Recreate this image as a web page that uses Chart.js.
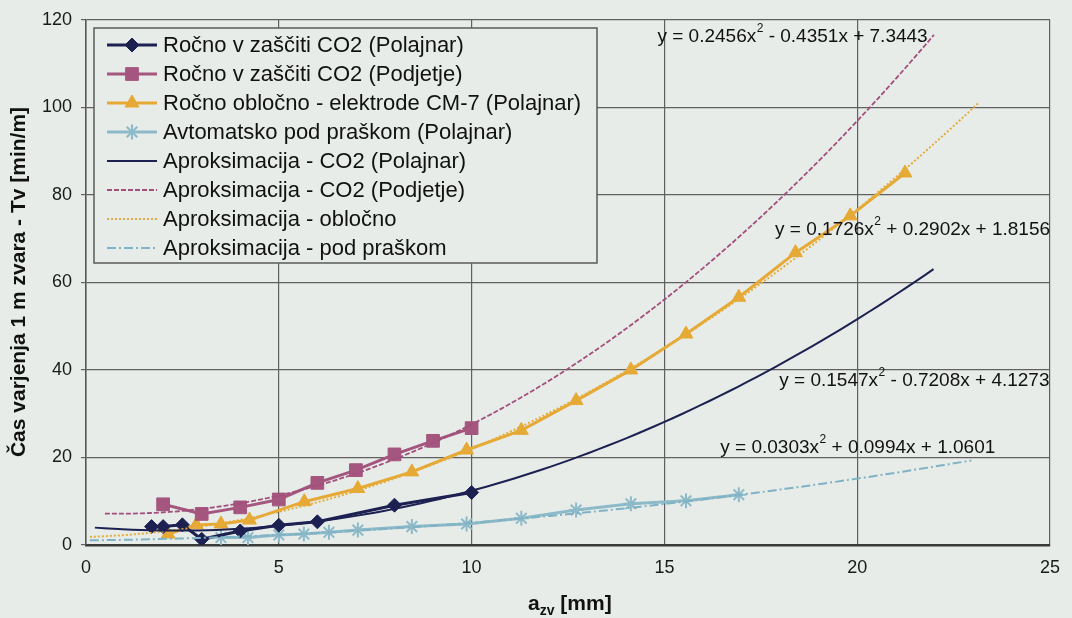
<!DOCTYPE html>
<html>
<head>
<meta charset="utf-8">
<script src="https://cdn.jsdelivr.net/npm/chart.js@4.4.1/dist/chart.umd.min.js"></script>
<style>
  html, body { margin: 0; padding: 0; background: #e8ece9; }
  #wrap { width: 1072px; height: 618px; }
</style>
</head>
<body>
<div id="wrap"><canvas id="chart" width="1072" height="618"></canvas></div>
<script>
// Measured welding times per metre of weld vs. weld size a_zv [mm]
const polajnarX = [1.7, 2, 2.5, 3, 4, 5, 6, 8, 10];
const polajnarY = [4.2, 4.2, 4.6, 1.3, 3.2, 4.5, 5.3, 9.1, 12.0];

const podjetjeX = [2, 3, 4, 5, 6, 7, 8, 9, 10];
const podjetjeY = [9.3, 7.1, 8.6, 10.4, 14.2, 17.1, 20.7, 23.8, 26.7];

const oblocnoX = [2.13, 2.86, 3.5, 4.24, 5.66, 7.05, 8.45, 9.87, 11.29, 12.71, 14.13, 15.56, 16.93, 18.4, 19.82, 21.24];
const oblocnoY = [2.5, 4.6, 4.8, 5.7, 9.9, 12.9, 16.7, 21.7, 26.2, 33.0, 40.0, 48.2, 56.6, 66.8, 75.2, 85.0];

const prasekX = [3.5, 4.2, 5.0, 5.65, 6.3, 7.05, 8.45, 9.87, 11.29, 12.71, 14.13, 15.56, 16.93];
const prasekY = [1.7, 1.7, 2.3, 2.5, 2.9, 3.4, 4.2, 4.8, 6.1, 8.0, 9.4, 10.1, 11.5];

// Quadratic trendlines y = a*x^2 + b*x + c, coefficients as printed on the chart
const fitPolajnar = [0.1547, -0.7208, 4.1273];
const fitPodjetje = [0.2456, -0.4351, 7.3443];
const fitOblocno = [0.1726, 0.2902, 1.8156];
const fitPrasek = [0.0303, 0.0994, 1.0601];

// x extent of each trendline (forecast forward/backward)
const fitRangePolajnar = [0.23, 21.98];
const fitRangePodjetje = [0.49, 21.99];
const fitRangeOblocno = [0.1, 23.17];
const fitRangePrasek = [0.1, 22.96];

const seriesNames = [
  'Ročno v zaščiti CO2 (Polajnar)',
  'Ročno v zaščiti CO2 (Podjetje)',
  'Ročno obločno - elektrode CM-7 (Polajnar)',
  'Avtomatsko pod praškom (Polajnar)',
];
const fitNames = [
  'Aproksimacija - CO2 (Polajnar)',
  'Aproksimacija - CO2 (Podjetje)',
  'Aproksimacija - obločno',
  'Aproksimacija - pod praškom',
];

const xTicks = [0, 5, 10, 15, 20, 25];
const yTicks = [0, 20, 40, 60, 80, 100, 120];

const PAGE_BG = '#e8ece9';
const FONT = '"Liberation Sans", Arial, sans-serif';

const NAVY = '#1c2152';
const MAUVE = '#a4567f';
const GOLD = '#e6a935';
const SKY = '#8dbac8';

function zip(xs, ys) {
  return xs.map((x, i) => ({ x, y: ys[i] }));
}

// sample the printed quadratic across its range
function fitCurve(coef, range) {
  const pts = [];
  const n = 90;
  for (let i = 0; i <= n; i++) {
    const x = range[0] + (range[1] - range[0]) * i / n;
    pts.push({ x, y: coef[0] * x * x + coef[1] * x + coef[2] });
  }
  return pts;
}

function dataSeries(label, points, color, style, radius) {
  return {
    label,
    data: points,
    showLine: true,
    borderColor: color,
    borderWidth: 3,
    pointStyle: style,
    pointRadius: radius,
    pointBackgroundColor: color,
    pointBorderColor: color,
    pointBorderWidth: style === 'star' ? 2 : 1,
    order: 2,
  };
}

function fitSeries(label, points, color, width, dash) {
  return {
    label,
    data: points,
    showLine: true,
    borderColor: color,
    borderWidth: width,
    borderDash: dash,
    pointRadius: 0,
    pointStyle: false,
    order: 1,
  };
}

const datasets = [
  dataSeries(seriesNames[0], zip(polajnarX, polajnarY), NAVY, 'rectRot', 7),
  dataSeries(seriesNames[1], zip(podjetjeX, podjetjeY), MAUVE, 'rect', 9),
  dataSeries(seriesNames[2], zip(oblocnoX, oblocnoY), GOLD, 'triangle', 8),
  dataSeries(seriesNames[3], zip(prasekX, prasekY), SKY, 'star', 7.5),
  fitSeries(fitNames[0], fitCurve(fitPolajnar, fitRangePolajnar), NAVY, 2, []),
  fitSeries(fitNames[1], fitCurve(fitPodjetje, fitRangePodjetje), '#a24f7c', 1.8, [5, 2]),
  fitSeries(fitNames[2], fitCurve(fitOblocno, fitRangeOblocno), '#e3ad3c', 2, [2, 2]),
  fitSeries(fitNames[3], fitCurve(fitPrasek, fitRangePrasek), '#7fb2c4', 2, [9, 3, 2, 3]),
];

// where each equation text starts (data units: x of left edge, y of text middle)
const eqCoefs = [fitPodjetje, fitOblocno, fitPolajnar, fitPrasek];
const eqAnchors = [[14.82, 116.2], [17.87, 72.0], [17.98, 37.6], [16.45, 22.3]];

function fmtEq(coef) {
  const a = coef[0].toFixed(4);
  const b = (coef[1] < 0 ? ' - ' : ' + ') + Math.abs(coef[1]).toFixed(4) + 'x';
  const c = (coef[2] < 0 ? ' - ' : ' + ') + Math.abs(coef[2]).toFixed(4);
  return ['y = ' + a + 'x', '2', b + c];
}

const overlay = {
  id: 'overlay',
  afterDraw(chart) {
    const { ctx } = chart;
    const xs = chart.scales.x;
    const ys = chart.scales.y;
    ctx.save();

    // legend box
    const L = { left: 94, top: 28, right: 597, bottom: 263 };
    ctx.fillStyle = PAGE_BG;
    ctx.fillRect(L.left, L.top, L.right - L.left, L.bottom - L.top);
    ctx.strokeStyle = '#5a5a5a';
    ctx.lineWidth = 1.5;
    ctx.strokeRect(L.left, L.top, L.right - L.left, L.bottom - L.top);

    ctx.font = '22px ' + FONT;
    ctx.textBaseline = 'middle';
    ctx.textAlign = 'left';
    chart.data.datasets.forEach((ds, i) => {
      const ry = 45 + i * 29;
      ctx.save();
      ctx.strokeStyle = ds.borderColor;
      ctx.lineWidth = ds.borderWidth;
      ctx.setLineDash(ds.borderDash || []);
      ctx.beginPath();
      ctx.moveTo(107, ry);
      ctx.lineTo(157, ry);
      ctx.stroke();
      ctx.setLineDash([]);
      if (ds.pointRadius > 0) {
        ctx.fillStyle = ds.pointBackgroundColor;
        ctx.strokeStyle = ds.pointBorderColor;
        ctx.lineWidth = ds.pointBorderWidth;
        Chart.helpers.drawPoint(ctx, {
          pointStyle: ds.pointStyle, radius: ds.pointRadius,
          borderWidth: ds.pointBorderWidth, rotation: 0,
        }, 132, ry);
      }
      ctx.restore();
      ctx.fillStyle = '#111';
      ctx.fillText(ds.label, 163, ry + 1);
    });

    // trendline equations
    eqCoefs.forEach((coef, i) => {
      const parts = fmtEq(coef);
      let px = xs.getPixelForValue(eqAnchors[i][0]);
      const py = ys.getPixelForValue(eqAnchors[i][1]);
      ctx.fillStyle = '#111';
      ctx.textBaseline = 'middle';
      ctx.font = '19px ' + FONT;
      ctx.fillText(parts[0], px, py);
      px += ctx.measureText(parts[0]).width;
      ctx.font = '12px ' + FONT;
      ctx.fillText(parts[1], px + 0.5, py - 8);
      px += ctx.measureText(parts[1]).width + 0.5;
      ctx.font = '19px ' + FONT;
      ctx.fillText(parts[2], px, py);
    });

    // axis titles
    ctx.fillStyle = '#111';
    ctx.save();
    ctx.translate(19, 282);
    ctx.rotate(-Math.PI / 2);
    ctx.font = 'bold 21px ' + FONT;
    ctx.textAlign = 'center';
    ctx.textBaseline = 'middle';
    ctx.fillText('Čas varjenja 1 m zvara - Tv [min/m]', 0, 0);
    ctx.restore();

    ctx.textAlign = 'left';
    ctx.textBaseline = 'alphabetic';
    let tx = 528;
    const base = 610;
    ctx.font = 'bold 21px ' + FONT;
    ctx.fillText('a', tx, base);
    tx += ctx.measureText('a').width;
    ctx.font = 'bold 14px ' + FONT;
    ctx.fillText('zv', tx, base + 5);
    tx += ctx.measureText('zv').width;
    ctx.font = 'bold 21px ' + FONT;
    ctx.fillText(' [mm]', tx, base);

    ctx.restore();
  },
};

new Chart(document.getElementById('chart'), {
  type: 'scatter',
  data: { datasets },
  options: {
    responsive: false,
    animation: false,
    layout: { padding: { left: 0, top: 18, right: 18, bottom: 0 } },
    plugins: { legend: { display: false }, tooltip: { enabled: false } },
    elements: { line: { tension: 0 } },
    scales: {
      x: {
        type: 'linear',
        min: 0,
        max: 25,
        afterBuildTicks(scale) { scale.ticks = xTicks.map((v) => ({ value: v })); },
        afterFit(scale) { scale.height = 73; },
        ticks: { font: { family: FONT, size: 18 }, color: '#1a1a1a', padding: 12, maxRotation: 0 },
        grid: { color: '#606060', lineWidth: 1.2, drawTicks: false },
        border: { display: true, color: '#3a3a3a', width: 2.5 },
      },
      y: {
        type: 'linear',
        min: 0,
        max: 120,
        afterBuildTicks(scale) { scale.ticks = yTicks.map((v) => ({ value: v })); },
        afterFit(scale) { scale.width = 86; },
        ticks: { font: { family: FONT, size: 18 }, color: '#1a1a1a', padding: 9 },
        grid: { color: '#606060', lineWidth: 1.2, tickLength: 5 },
        border: { display: true, color: '#555', width: 1.5 },
      },
    },
  },
  plugins: [overlay],
});
</script>
</body>
</html>
